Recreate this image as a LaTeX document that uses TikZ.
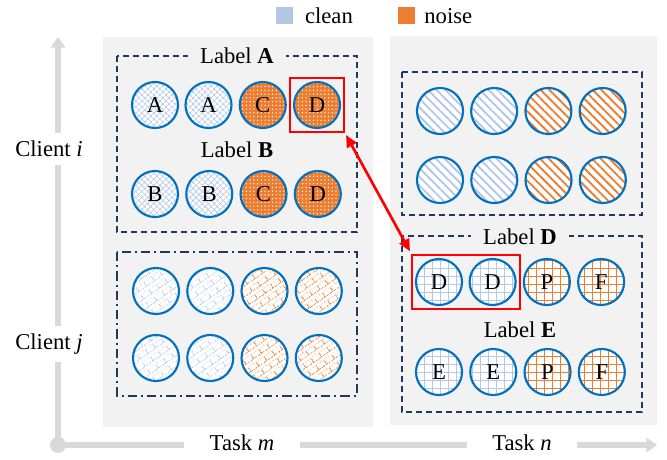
\documentclass[tikz,border=0pt]{standalone}
\usepackage{fontspec}
\setmainfont{Liberation Serif}
\usetikzlibrary{arrows.meta,positioning,fit,patterns,patterns.meta}
\definecolor{cleanblue}{HTML}{B4C7E7}
\definecolor{noiseorange}{HTML}{ED7D31}
\definecolor{ringblue}{HTML}{0070C0}
\definecolor{boxnavy}{HTML}{203864}
\definecolor{panelgray}{HTML}{F2F2F2}
\definecolor{axisgray}{HTML}{D9D9D9}
\tikzdeclarepattern{
    name=slantbricks,
    type=uncolored,
    bounding box={(0pt,0pt) and (7pt,7pt)},
    tile size={(7pt,7pt)},
    tile transformation={rotate=35},
    code={
        \draw[line width=0.45pt] (0pt,0pt) -- (7pt,0pt) (0pt,3.5pt) -- (7pt,3.5pt)
            (0pt,0pt) -- (0pt,3.5pt) (3.5pt,3.5pt) -- (3.5pt,7pt);
    }
}
\tikzset{
    sample/.style={circle,draw=ringblue,line width=1.6pt,minimum size=34.5pt,inner sep=0pt,
        font=\fontsize{17}{20}\selectfont},
    cleanweave/.style={sample,preaction={fill=white},
        pattern={Hatch[angle=45,distance=3.2pt,line width=0.45pt]},pattern color=cleanblue},
    noiseweave/.style={sample,preaction={fill=noiseorange},
        pattern={Dots[distance=2.8pt,radius=0.55pt]},pattern color=white},
    cleanstripe/.style={sample,preaction={fill=white},
        pattern={Lines[angle=-45,distance=4.6pt,line width=1.4pt]},pattern color=cleanblue},
    noisestripe/.style={sample,preaction={fill=white},
        pattern={Lines[angle=-45,distance=4.6pt,line width=1.4pt]},pattern color=noiseorange},
    cleanbrick/.style={sample,preaction={fill=white},pattern=slantbricks,pattern color=cleanblue},
    noisebrick/.style={sample,preaction={fill=white},pattern=slantbricks,pattern color=noiseorange},
    cleangrid/.style={sample,preaction={fill=white},
        pattern={Hatch[angle=0,distance=6pt,line width=0.6pt]},pattern color=cleanblue},
    noisegrid/.style={sample,preaction={fill=white},
        pattern={Hatch[angle=0,distance=6pt,line width=0.6pt]},pattern color=noiseorange},
    groupbox/.style={draw=boxnavy,line width=1.5pt,dash pattern=on 4.5pt off 3pt},
    dotbox/.style={draw=boxnavy,line width=1.5pt,dash pattern=on 7pt off 3pt on 1.5pt off 3pt},
    grouplabel/.style={fill=panelgray,inner xsep=9pt,inner ysep=1pt,font=\fontsize{17}{20}\selectfont},
    pick/.style={draw=red,line width=1.5pt,inner sep=2pt},
    axis/.style={draw=axisgray,line width=5pt,-{Triangle[length=8pt,width=11pt]}},
    axislabel/.style={fill=white,inner xsep=2pt,inner ysep=6pt,font=\fontsize{17}{20}\selectfont},
    tasklabel/.style={fill=white,inner xsep=19pt,inner ysep=3pt,font=\fontsize{17}{20}\selectfont},
    swatch/.style={minimum size=12.75pt,inner sep=0pt},
    keytext/.style={inner sep=0pt,font=\fontsize{17}{20}\selectfont}
}

\begin{document}
\begin{tikzpicture}[x=0.75pt,y=-0.75pt,node distance=4.6pt]
    \useasboundingbox (0,0) rectangle (667,460);

    % panels for the two tasks
    \fill[panelgray] (103,37) rectangle (373,427);
    \fill[panelgray] (390,36) rectangle (657,425);

    % axes
    \coordinate (origin) at (58,445);
    \coordinate (ytip)   at (58,37);
    \coordinate (xtip)   at (657,445);
    \draw[axis] (origin) -- (ytip);
    \draw[axis] (origin) -- (xtip);
    \fill[axisgray] (origin) circle (6pt);
    \node[axislabel] (clienti) at (49,149) {Client \textit{i}};
    \node[axislabel] (clientj) at (49,344) {Client \textit{j}};
    \node[tasklabel] (taskm) at (242,443) {Task \textit{m}};
    \node[tasklabel] (taskn) at (522,443) {Task \textit{n}};

    % legend
    \node[swatch,fill=cleanblue]   (keyclean) at (284,16) {};
    \node[keytext] (cleantext) [right=9pt of keyclean] {clean};
    \node[swatch,fill=noiseorange] (keynoise) at (406,16) {};
    \node[keytext] (noisetext) [right=7pt of keynoise] {noise};

    % task m, client i
    \draw[groupbox] (117,56) rectangle (357,232);
    \node[grouplabel] (labela) at (237,56)  {Label \textbf{A}};
    \node[grouplabel] (labelb) at (237,150) {Label \textbf{B}};
    \node[cleanweave] (a1) at (155,105)     {A};
    \node[cleanweave] (a2) [right=of a1]    {A};
    \node[noiseweave] (a3) [right=of a2]    {C};
    \node[noiseweave] (a4) [right=of a3]    {D};
    \node[cleanweave] (b1) at (155,194)     {B};
    \node[cleanweave] (b2) [right=of b1]    {B};
    \node[noiseweave] (b3) [right=of b2]    {C};
    \node[noiseweave] (b4) [right=of b3]    {D};

    % task m, client j
    \draw[dotbox] (117,252) rectangle (357,396);
    \node[cleanbrick] (c1) at (156,291)     {};
    \node[cleanbrick] (c2) [right=of c1]    {};
    \node[noisebrick] (c3) [right=of c2]    {};
    \node[noisebrick] (c4) [right=of c3]    {};
    \node[cleanbrick] (e1) at (156,358)     {};
    \node[cleanbrick] (e2) [right=of e1]    {};
    \node[noisebrick] (e3) [right=of e2]    {};
    \node[noisebrick] (e4) [right=of e3]    {};

    % task n, client i
    \draw[groupbox] (402,72) rectangle (642,215);
    \node[cleanstripe] (f1) at (440,111)    {};
    \node[cleanstripe] (f2) [right=of f1]   {};
    \node[noisestripe] (f3) [right=of f2]   {};
    \node[noisestripe] (f4) [right=of f3]   {};
    \node[cleanstripe] (g1) at (440,180)    {};
    \node[cleanstripe] (g2) [right=of g1]   {};
    \node[noisestripe] (g3) [right=of g2]   {};
    \node[noisestripe] (g4) [right=of g3]   {};

    % task n, client j
    \draw[groupbox] (402,236) rectangle (642,412);
    \node[grouplabel] (labeld) at (520,237) {Label \textbf{D}};
    \node[grouplabel] (labele) at (520,330) {Label \textbf{E}};
    \node[cleangrid] (d1) at (439,282)      {D};
    \node[cleangrid] (d2) [right=of d1]     {D};
    \node[noisegrid] (d3) [right=of d2]     {P};
    \node[noisegrid] (d4) [right=of d3]     {F};
    \node[cleangrid] (h1) at (439,372)      {E};
    \node[cleangrid] (h2) [right=of h1]     {E};
    \node[noisegrid] (h3) [right=of h2]     {P};
    \node[noisegrid] (h4) [right=of h3]     {F};

    % matching labels
    \node[pick,fit=(a4)] (pick1) {};
    \node[pick,fit=(d1) (d2),inner sep=2.5pt] (pick2) {};
    \draw[red,line width=2pt,{Triangle[length=9pt,width=8pt]}-{Triangle[length=9pt,width=8pt]},
        shorten <=2pt,shorten >=2pt] (pick1.south east) -- (pick2.north west);

\end{tikzpicture}
\end{document}
